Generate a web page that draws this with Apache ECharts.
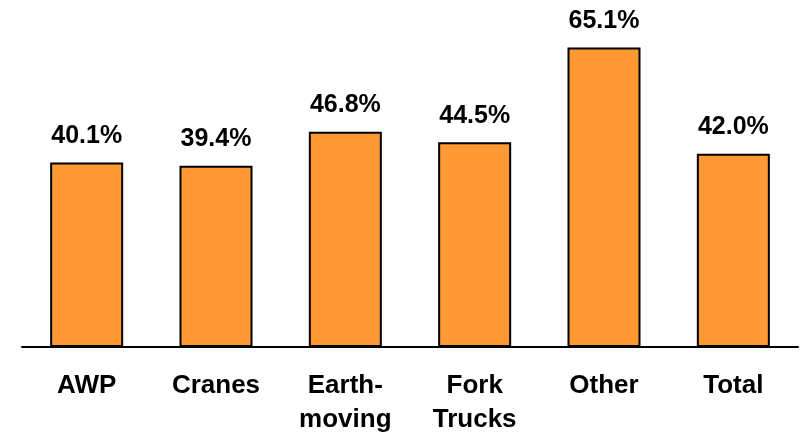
<!DOCTYPE html>
<html>
<head>
<meta charset="utf-8">
<script src="https://cdn.jsdelivr.net/npm/echarts@6/dist/echarts.min.js"></script>
<style>
  html, body { margin: 0; padding: 0; background: #fff; }
  #chart { width: 802px; height: 433px; }
</style>
</head>
<body>
<div id="chart"></div>
<script>
// Share by equipment category (percent)
const categories = ['AWP', 'Cranes', 'Earth-\nmoving', 'Fork\nTrucks', 'Other', 'Total'];
const shares = [40.1, 39.4, 46.8, 44.5, 65.1, 42.0];

const chart = echarts.init(document.getElementById('chart'), null, { renderer: 'canvas' });

chart.setOption({
  animation: false,
  grid: { left: 22, right: 4, top: 2, bottom: 86, containLabel: false, outerBoundsMode: 'none' },
  xAxis: {
    type: 'category',
    data: categories,
    axisLine: { lineStyle: { color: '#000', width: 2 } },
    axisTick: { show: false },
    axisLabel: {
      interval: 0,
      margin: 22,
      color: '#000',
      fontFamily: 'Liberation Sans, Arial, sans-serif',
      fontWeight: 'bold',
      fontSize: 26,
      lineHeight: 34
    }
  },
  yAxis: {
    type: 'value',
    min: 0,
    max: 75,
    show: false
  },
  series: [{
    type: 'bar',
    data: shares,
    barWidth: 73,
    itemStyle: { color: '#FF9933', borderColor: '#000', borderWidth: 2 },
    label: {
      show: true,
      position: 'top',
      distance: 14,
      color: '#000',
      fontFamily: 'Liberation Sans, Arial, sans-serif',
      fontWeight: 'bold',
      fontSize: 25,
      formatter: p => p.value.toFixed(1) + '%'
    }
  }]
});
</script>
</body>
</html>
